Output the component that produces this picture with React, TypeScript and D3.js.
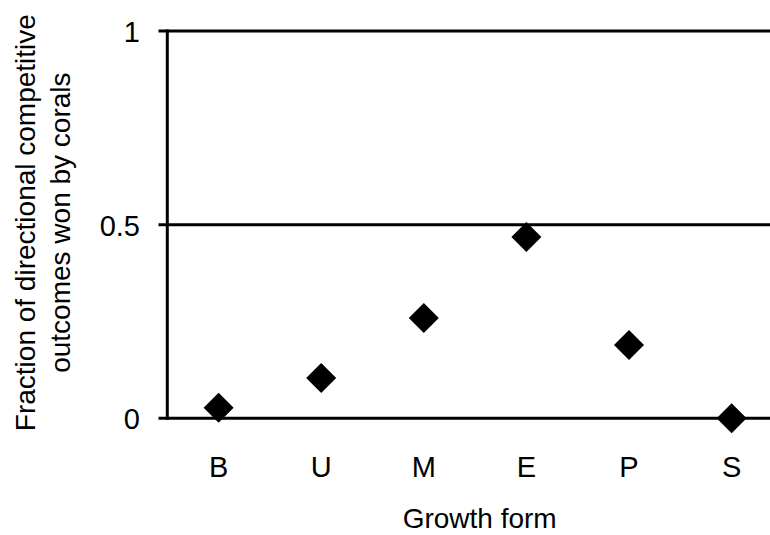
import React from "react";
import * as d3 from "d3";

const categories = ["B", "U", "M", "E", "P", "S"];
const values = [0.027, 0.104, 0.259, 0.468, 0.189, 0.0];
const yTicks = [0, 0.5, 1];
const yTickLabels = ["0", "0.5", "1"];
const xTitle = "Growth form";
const yTitleLines = ["Fraction of directional competitive", "outcomes won by corals"];

const W = 770;
const H = 535;
const left = 167.3;
const top = 31;
const bottom = 418.3;
const FONT = "Arial, 'Liberation Sans', Helvetica, sans-serif";

export default function App() {
  const x = d3.scaleBand<string>().domain(categories).range([left, left + 6 * 102.6]).padding(0);
  const y = d3.scaleLinear().domain([0, 1]).range([bottom, top]);
  const cx = (c: string) => (x(c) as number) + x.bandwidth() / 2;
  const r = 15;
  const diamond = (px: number, py: number) => {
    const p = d3.path();
    p.moveTo(px, py - r);
    p.lineTo(px + r, py);
    p.lineTo(px, py + r);
    p.lineTo(px - r, py);
    p.closePath();
    return p.toString();
  };
  return (
    <svg
      width={W}
      height={H}
      style={{ position: "absolute", left: 0, top: 0, background: "#fff" }}
      fontFamily={FONT}
    >
      <rect x={0} y={0} width={W} height={H} fill="#fff" />
      {yTicks.map((t) => (
        <line key={"g" + t} x1={158.5} x2={W} y1={y(t)} y2={y(t)} stroke="#000" strokeWidth={3} />
      ))}
      <line x1={left} x2={left} y1={y(1) - 1.5} y2={y(0) + 1.5} stroke="#000" strokeWidth={3} />
      {yTicks.map((t, i) => (
        <text
          key={"t" + t}
          x={140}
          y={y(t) + 1}
          textAnchor="end"
          dominantBaseline="central"
          fontSize={29}
          fill="#000"
        >
          {yTickLabels[i]}
        </text>
      ))}
      {categories.map((c) => (
        <text key={"x" + c} x={cx(c)} y={477} textAnchor="middle" fontSize={29} fill="#000">
          {c}
        </text>
      ))}
      {categories.map((c, i) => (
        <path key={"p" + c} d={diamond(cx(c), y(values[i]))} fill="#000" />
      ))}
      <text x={(left + W) / 2 + 11} y={528} textAnchor="middle" fontSize={28} fill="#000">
        {xTitle}
      </text>
      <g transform={`translate(0, ${(top + bottom) / 2 - 2}) rotate(-90)`}>
        {yTitleLines.map((l, i) => (
          <text key={l} x={0} y={35 + i * 35} textAnchor="middle" fontSize={28} fill="#000">
            {l}
          </text>
        ))}
      </g>
    </svg>
  );
}
